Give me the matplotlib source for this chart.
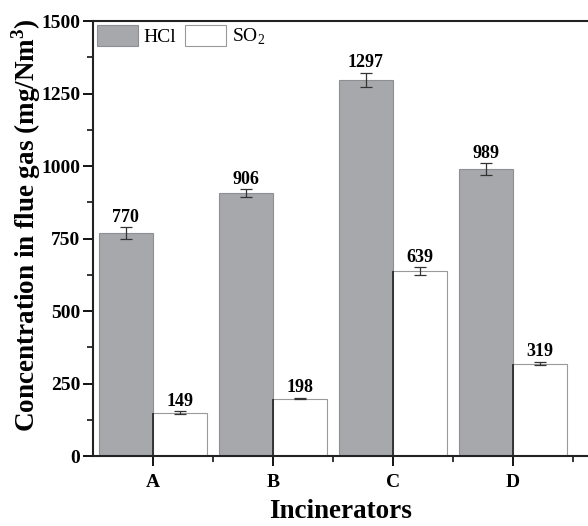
import numpy as np
import matplotlib
matplotlib.use('Agg')
import matplotlib.pyplot as plt
from matplotlib.ticker import MultipleLocator, FixedLocator

plt.rcParams['font.family'] = ['Liberation Serif', 'DejaVu Serif']
plt.rcParams['mathtext.fontset'] = 'custom'
plt.rcParams['mathtext.rm'] = 'Liberation Serif'
plt.rcParams['mathtext.bf'] = 'Liberation Serif:bold'

# Incinerator flue gas concentrations (mg/Nm3)
incinerators = ['A', 'B', 'C', 'D']
hcl = [770, 906, 1297, 989]
hcl_err = [20, 14, 25, 20]
so2 = [149, 198, 639, 319]
so2_err = [5, 3, 13, 6]

x = np.arange(len(incinerators))
width = 0.45

fig = plt.figure(figsize=(5.88, 5.26), dpi=100)
ax = fig.add_axes([0.158, 0.133, 0.842, 0.827])

ax.bar(x - width / 2, hcl, width, color='#a7a8ab', edgecolor='#8e8f92', linewidth=0.8,
       label='HCl', zorder=2)
ax.bar(x + width / 2, so2, width, color='white', edgecolor='#9a9a9a', linewidth=0.8,
       label='SO$_2$', zorder=2)
# dark left edge on the SO2 bars
ax.vlines(x, 0, so2, color='#222222', linewidth=1.2, zorder=3)

ax.errorbar(x - width / 2, hcl, yerr=hcl_err, fmt='none', ecolor='#333333',
            elinewidth=0.9, capsize=4, capthick=0.9, zorder=4)
ax.errorbar(x + width / 2, so2, yerr=so2_err, fmt='none', ecolor='#333333',
            elinewidth=0.9, capsize=4, capthick=0.9, zorder=4)

for xi, v, e in zip(x - width / 2, hcl, hcl_err):
    ax.annotate(str(v), (xi, v + e), xytext=(0, 1), textcoords='offset points',
                ha='center', va='bottom', fontsize=13, fontweight='bold')
for xi, v, e in zip(x + width / 2, so2, so2_err):
    ax.annotate(str(v), (xi, v + e), xytext=(0, 1), textcoords='offset points',
                ha='center', va='bottom', fontsize=13, fontweight='bold')

ax.set_xlim(-0.5, 3.625)
ax.set_ylim(0, 1500)
ax.set_xticks(x)
ax.set_xticklabels(incinerators)
ax.xaxis.set_minor_locator(FixedLocator(x + 0.5))
ax.yaxis.set_major_locator(MultipleLocator(250))
ax.yaxis.set_minor_locator(MultipleLocator(125))

for lab in ax.get_xticklabels() + ax.get_yticklabels():
    lab.set_fontweight('bold')
ax.tick_params(axis='both', which='major', direction='out', length=7, width=1.3,
               labelsize=14)
ax.tick_params(axis='y', which='major', pad=2)
ax.tick_params(axis='x', which='major', pad=6)
ax.tick_params(axis='both', which='minor', direction='out', length=4, width=1.1)

for side in ['left', 'bottom', 'top']:
    ax.spines[side].set_linewidth(1.5)
    ax.spines[side].set_color('#222222')
ax.spines['right'].set_visible(False)

ax.set_xlabel('Incinerators', fontsize=19.5, fontweight='bold', labelpad=6)
ax.set_ylabel(r'Concentration in flue gas (mg/Nm$^\mathbf{3}$)', fontsize=19.5,
              fontweight='bold')
ax.yaxis.set_label_coords(-0.1, 0.53)

ax.legend(loc='upper left', ncol=2, frameon=False, fontsize=14, handlelength=2.1,
          handleheight=1.3, handletextpad=0.3, columnspacing=0.45,
          borderaxespad=0.1, borderpad=0.1)

fig.savefig('out.png', dpi=100)
